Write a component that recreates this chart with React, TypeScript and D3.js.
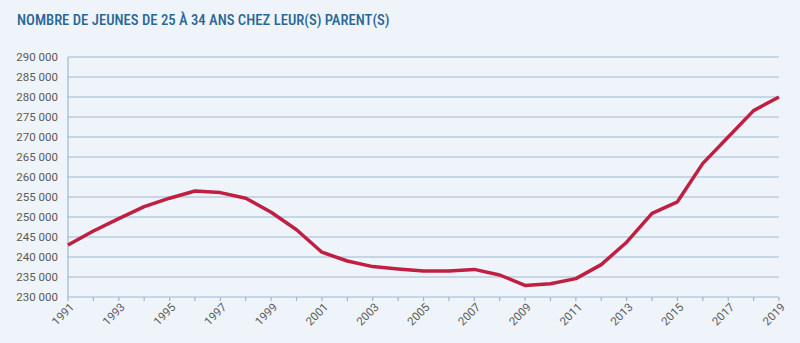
import React from "react";
import * as d3 from "d3";

const years = [1991,1992,1993,1994,1995,1996,1997,1998,1999,2000,2001,2002,2003,2004,2005,2006,2007,2008,2009,2010,2011,2012,2013,2014,2015,2016,2017,2018,2019];
const values = [243000,246500,249600,252600,254700,256500,256100,254700,251200,246800,241200,239000,237600,237000,236500,236500,236900,235500,232900,233300,234600,238100,243700,250900,253800,263400,270000,276600,280000];
const yTicks = [230000,235000,240000,245000,250000,255000,260000,265000,270000,275000,280000,285000,290000];
const xLabels = [1991,1993,1995,1997,1999,2001,2003,2005,2007,2009,2011,2013,2015,2017,2019];
const title = "NOMBRE DE JEUNES DE 25 À 34 ANS CHEZ LEUR(S) PARENT(S)";

const W = 800, H = 343;
const left = 68, right = 779, top = 57, bottom = 297;

export default function App() {
  const x = d3.scaleLinear().domain([1991, 2019]).range([left, right]);
  const y = d3.scaleLinear().domain([230000, 290000]).range([bottom, top]);
  const line = d3.line<number>().x((_, i) => x(years[i])).y((d) => y(d)).curve(d3.curveLinear);
  const fmt = (v: number) => d3.format(",")(v).replace(/,/g, " ");
  return (
    <div style={{ position: "fixed", left: 0, top: 0 }}>
      <svg width={W} height={H} style={{ display: "block", fontFamily: "Roboto, sans-serif" }}>
        <rect width={W} height={H} fill="#eef4fa" />
        <text x={17} y={25} fill="#2a6796" fontSize={14.7} fontWeight={500} style={{ fontFamily: "'Roboto Condensed', 'Liberation Sans Narrow', Roboto, sans-serif" }}>{title}</text>
        {yTicks.map((t) => (
          <g key={t}>
            <line x1={left} x2={right} y1={y(t)} y2={y(t)} stroke="#9db7cf" strokeWidth={1.2} />
            <text x={58} y={y(t)} dy="0.35em" textAnchor="end" fill="#5b5b5b" fontSize={11.5}>{fmt(t)}</text>
          </g>
        ))}
        <line x1={left} x2={left} y1={top} y2={bottom} stroke="#9db7cf" strokeWidth={1.2} />
        {years.map((yr) => (
          <line key={yr} x1={x(yr)} x2={x(yr)} y1={bottom} y2={bottom + 4} stroke="#9db7cf" strokeWidth={1.2} />
        ))}
        {xLabels.map((yr) => (
          <text key={yr} transform={`translate(${x(yr) + 4},${bottom + 8}) rotate(-45)`} textAnchor="end" dy="0.35em" fill="#5b5b5b" fontSize={11.5}>{yr}</text>
        ))}
        <path d={line(values) || ""} fill="none" stroke="#c01f42" strokeWidth={3.5} strokeLinejoin="round" />
      </svg>
    </div>
  );
}
